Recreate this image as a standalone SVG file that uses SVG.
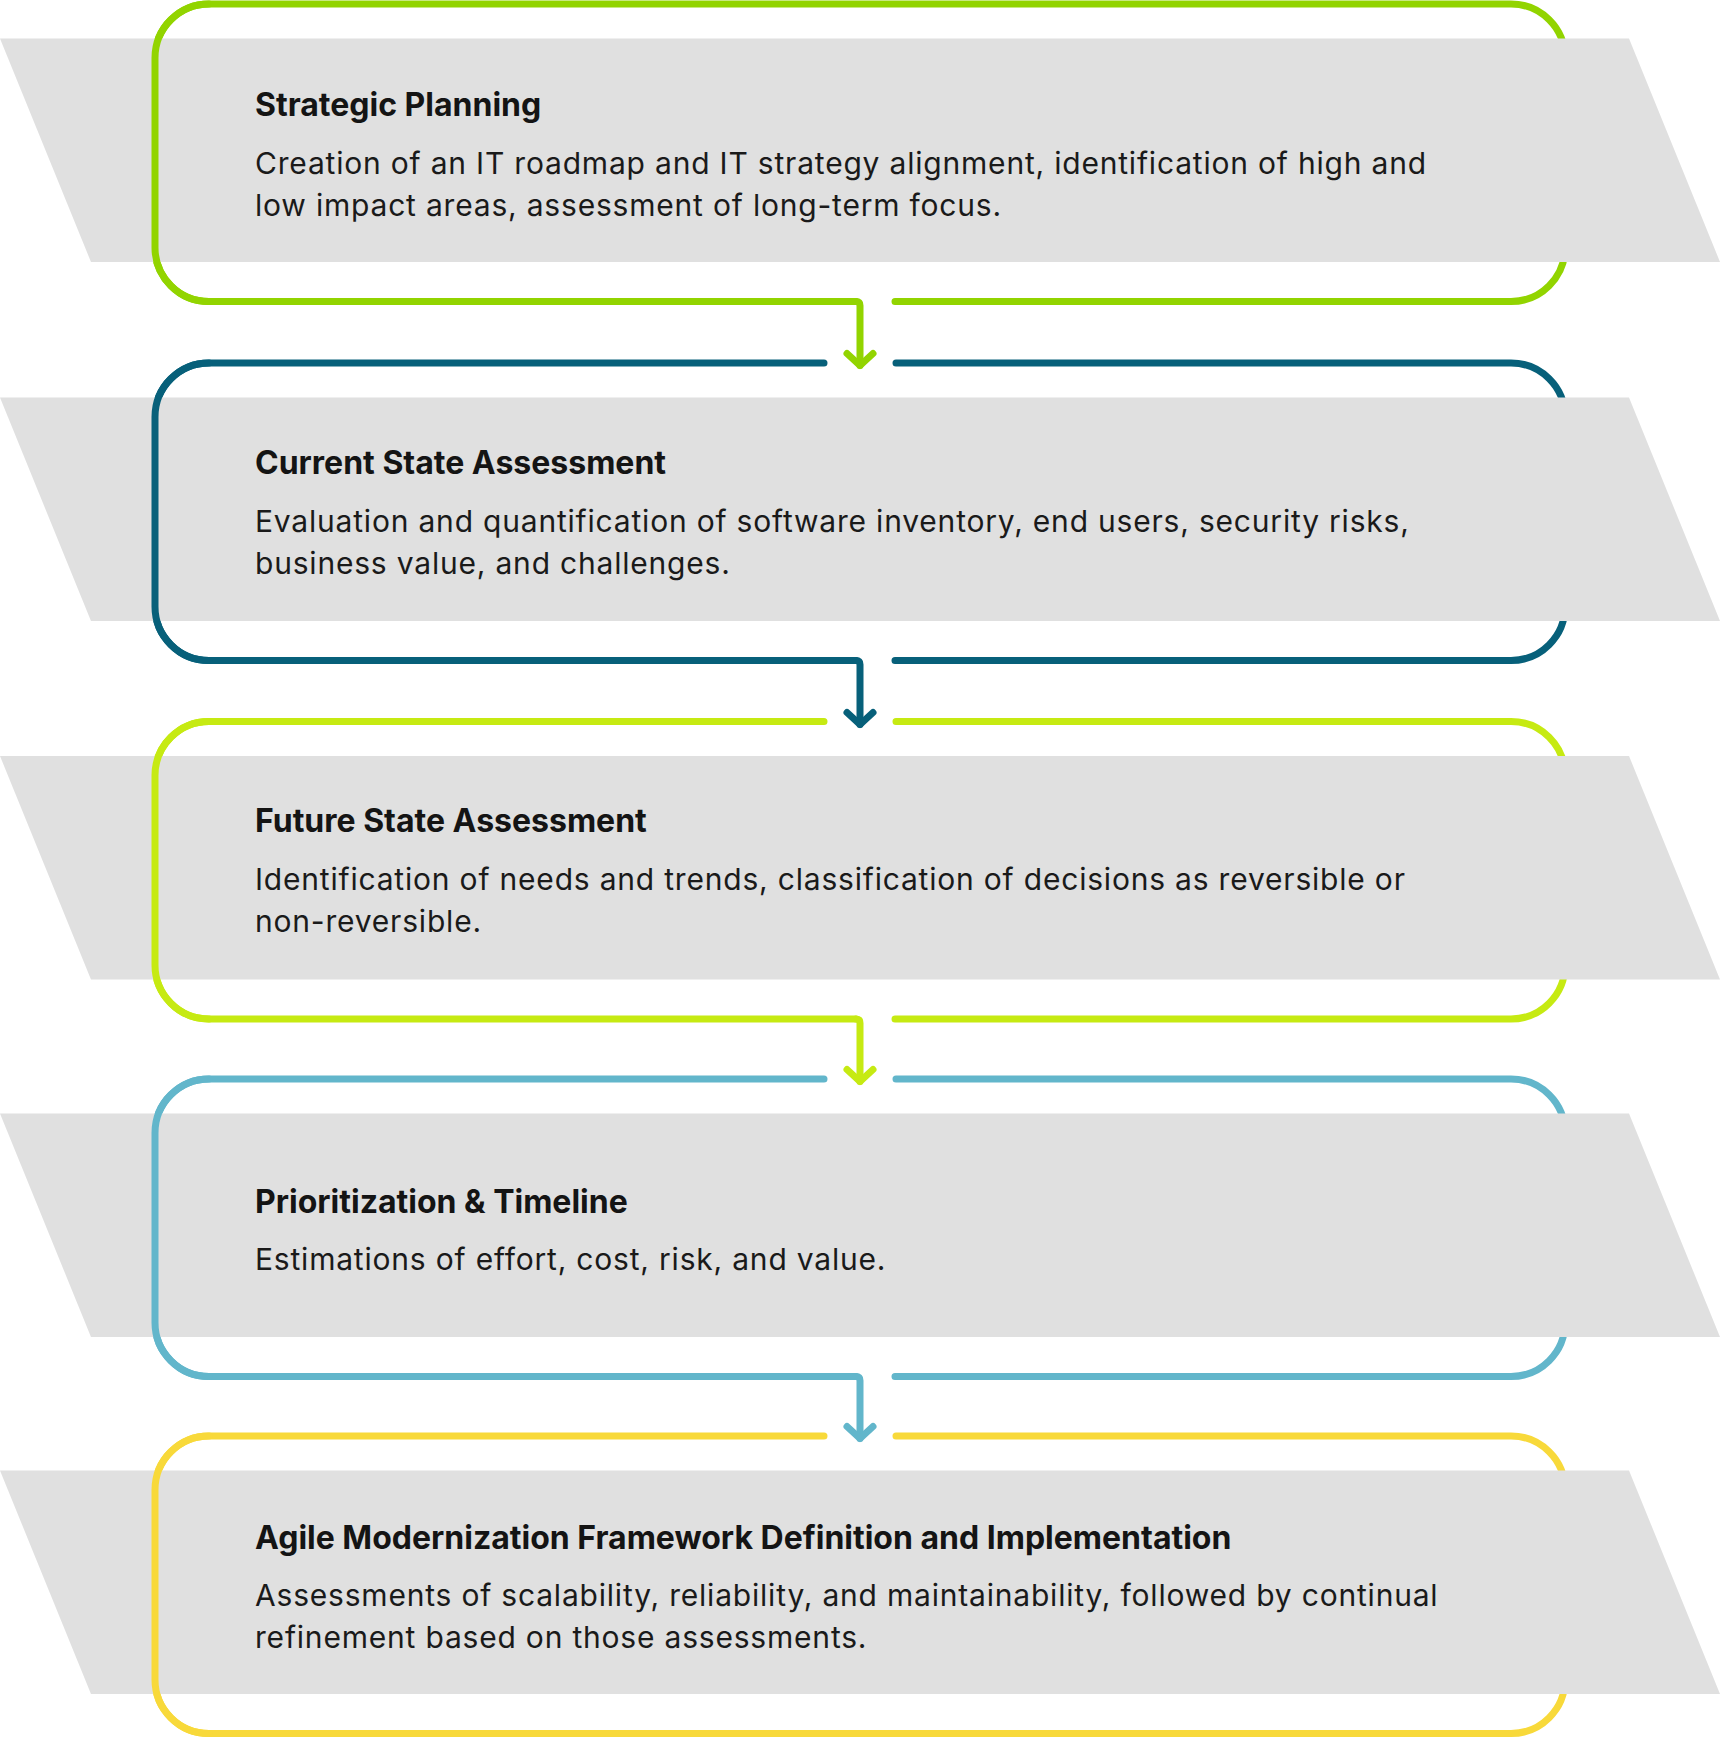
<svg xmlns="http://www.w3.org/2000/svg" width="1720" height="1738" viewBox="0 0 1720 1738">
<style>
.band{fill:#e0e0e0}
.ln{fill:none;stroke-width:7;stroke-linecap:round;stroke-linejoin:round}
.t{font-family:Inter,"Liberation Sans",sans-serif;font-weight:700;font-size:32px;fill:#141414}
.d{font-family:Inter,"Liberation Sans",sans-serif;font-weight:400;font-size:30px;letter-spacing:0.8px;fill:#1a1a1a}
.c1{stroke:#92d400}.c2{stroke:#07607a}.c3{stroke:#c6ea12}.c4{stroke:#62b6cb}.c5{stroke:#f8d93a}
</style>
<rect width="1720" height="1738" fill="#ffffff"/>
<g id="connectors">
<path class="ln c1" d="M856,301.5 Q860,301.5 860,305.5 L860,365.5"/>
<path class="ln c1" d="M847,353.5 L860,365.5 L873,353.5"/>
<path class="ln c2" d="M856,660.5 Q860,660.5 860,664.5 L860,724.5"/>
<path class="ln c2" d="M847,712.5 L860,724.5 L873,712.5"/>
<path class="ln c3" d="M856,1019 Q860,1019 860,1023 L860,1081.5"/>
<path class="ln c3" d="M847,1069.5 L860,1081.5 L873,1069.5"/>
<path class="ln c4" d="M856,1376.5 Q860,1376.5 860,1380.5 L860,1438.5"/>
<path class="ln c4" d="M847,1426.5 L860,1438.5 L873,1426.5"/>
</g>
<g id="node1">
<path class="ln c1" d="M895,301.5 L1511,301.5 A54,54 0 0 0 1565,247.5 L1565,58 A54,54 0 0 0 1511,4 L209,4 A54,54 0 0 0 155,58 L155,247.5 A54,54 0 0 0 209,301.5 L856,301.5"/>
<polygon class="band" points="0,38.5 1629,38.5 1720,262 91,262"/>
<path class="ln c1" d="M209,4 A54,54 0 0 0 155,58 L155,247.5 A54,54 0 0 0 209,301.5"/>
<text class="t" x="255" y="116">Strategic Planning</text>
<text class="d" x="255" y="174">Creation of an IT roadmap and IT strategy alignment, identification of high and</text>
<text class="d" x="255" y="216">low impact areas, assessment of long-term focus.</text>
</g>
<g id="node2">
<path class="ln c2" d="M896,363 L1511,363 A54,54 0 0 1 1565,417 L1565,606.5 A54,54 0 0 1 1511,660.5 L895,660.5"/>
<path class="ln c2" d="M824,363 L209,363 A54,54 0 0 0 155,417 L155,606.5 A54,54 0 0 0 209,660.5 L856,660.5"/>
<polygon class="band" points="0,397.5 1629,397.5 1720,621 91,621"/>
<path class="ln c2" d="M209,363 A54,54 0 0 0 155,417 L155,606.5 A54,54 0 0 0 209,660.5"/>
<text class="t" x="255" y="474">Current State Assessment</text>
<text class="d" x="255" y="532">Evaluation and quantification of software inventory, end users, security risks,</text>
<text class="d" x="255" y="574">business value, and challenges.</text>
</g>
<g id="node3">
<path class="ln c3" d="M896,721.5 L1511,721.5 A54,54 0 0 1 1565,775.5 L1565,965 A54,54 0 0 1 1511,1019 L895,1019"/>
<path class="ln c3" d="M824,721.5 L209,721.5 A54,54 0 0 0 155,775.5 L155,965 A54,54 0 0 0 209,1019 L856,1019"/>
<polygon class="band" points="0,756 1629,756 1720,979.5 91,979.5"/>
<path class="ln c3" d="M209,721.5 A54,54 0 0 0 155,775.5 L155,965 A54,54 0 0 0 209,1019"/>
<text class="t" x="255" y="832">Future State Assessment</text>
<text class="d" x="255" y="890">Identification of needs and trends, classification of decisions as reversible or</text>
<text class="d" x="255" y="932">non-reversible.</text>
</g>
<g id="node4">
<path class="ln c4" d="M896,1079 L1511,1079 A54,54 0 0 1 1565,1133 L1565,1322.5 A54,54 0 0 1 1511,1376.5 L895,1376.5"/>
<path class="ln c4" d="M824,1079 L209,1079 A54,54 0 0 0 155,1133 L155,1322.5 A54,54 0 0 0 209,1376.5 L856,1376.5"/>
<polygon class="band" points="0,1113.5 1629,1113.5 1720,1337 91,1337"/>
<path class="ln c4" d="M209,1079 A54,54 0 0 0 155,1133 L155,1322.5 A54,54 0 0 0 209,1376.5"/>
<text class="t" x="255" y="1212.5">Prioritization &amp; Timeline</text>
<text class="d" x="255" y="1269.5">Estimations of effort, cost, risk, and value.</text>
</g>
<g id="node5">
<path class="ln c5" d="M896,1436 L1511,1436 A54,54 0 0 1 1565,1490 L1565,1679.5 A54,54 0 0 1 1511,1733.5 L209,1733.5 A54,54 0 0 1 155,1679.5 L155,1490 A54,54 0 0 1 209,1436 L824,1436"/>
<polygon class="band" points="0,1470.5 1629,1470.5 1720,1694 91,1694"/>
<path class="ln c5" d="M209,1436 A54,54 0 0 0 155,1490 L155,1679.5 A54,54 0 0 0 209,1733.5"/>
<text class="t" x="255" y="1549">Agile Modernization Framework Definition and Implementation</text>
<text class="d" x="255" y="1606">Assessments of scalability, reliability, and maintainability, followed by continual</text>
<text class="d" x="255" y="1648">refinement based on those assessments.</text>
</g>
</svg>
